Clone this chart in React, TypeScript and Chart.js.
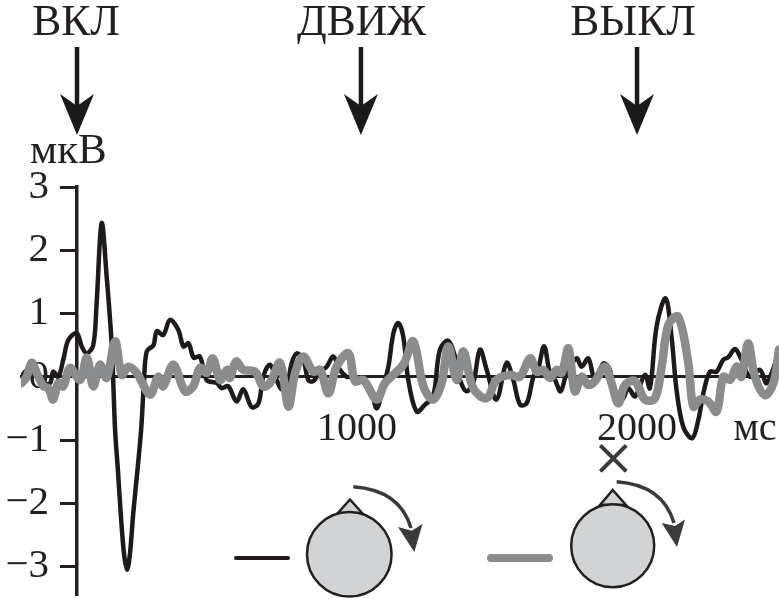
import React, { useEffect, useRef } from "react";
import { Chart, registerables } from "chart.js";

Chart.register(...registerables);

const blackTimes = [-198,-180,-156,-120,-96,-85,-67,-49,-31,-1,17,35,58,70,88,106,124,136,146,156,168,179,189,201,216,229,239,249,273,285,308,332,362,380,398,417,439,463,499,517,540,570,594,624,648,665,689,713,731,749,767,785,808,826,844,868,892,915,939,963,987,1011,1046,1070,1094,1112,1130,1147,1165,1183,1213,1243,1272,1296,1326,1350,1368,1391,1415,1439,1463,1498,1534,1558,1582,1606,1630,1647,1668,1689,1707,1727,1749,1784,1802,1826,1850,1880,1903,1927,1951,1969,1993,2028,2046,2070,2102,2123,2141,2165,2197,2219,2237,2260,2284,2308,2326,2350,2373,2403,2439,2463,2507];
const blackValues = [0,0.1,0.05,-0.1,-0.1,0.08,0,0.27,0.58,0.69,0.48,0.37,0.5,1.16,2.43,1.58,0.5,-0.84,-1.47,-2.15,-2.8,-3.05,-2.8,-2.15,-1.47,-0.84,-0.1,0.4,0.5,0.72,0.66,0.9,0.74,0.48,0.53,0.3,0.32,-0.05,-0.1,-0.18,-0.15,-0.39,-0.2,-0.48,-0.42,0,0.19,-0.05,-0.2,-0.15,0.22,0.37,0.27,-0.05,-0.07,0.08,0.16,0.32,0.11,0,0,-0.05,-0.15,-0.5,-0.15,0.16,0.69,0.85,0.64,-0.05,-0.55,-0.44,-0.31,0.43,0.57,0.32,-0.05,-0.23,-0.1,0.43,0.11,-0.36,0.22,-0.05,-0.44,-0.42,0,0.13,0.48,0.06,-0.05,-0.23,0.06,0.29,0.16,0.29,-0.05,0.21,0.11,-0.42,-0.34,-0.18,-0.31,0.03,-0.18,0.8,1.24,0.64,-0.2,-0.79,-0.97,-0.68,-0.26,0.08,0.08,0.27,0.31,0.44,0.27,0,0.11,-0.1,0.4];

const greyTimes = [-198,-180,-162,-144,-120,-102,-85,-67,-49,-25,11,35,58,82,106,136,160,183,213,261,290,308,344,386,415,439,463,485,511,535,546,568,594,636,665,689,725,755,779,808,844,868,898,927,969,993,1023,1070,1100,1165,1201,1237,1272,1302,1326,1356,1380,1415,1463,1498,1546,1582,1618,1642,1665,1689,1713,1731,1755,1778,1802,1826,1850,1885,1909,1933,1957,1993,2028,2064,2088,2112,2147,2183,2201,2225,2254,2284,2308,2332,2356,2373,2397,2421,2457,2487,2507];
const greyValues = [-0.1,0,0.22,0.06,-0.15,-0.18,-0.36,-0.1,-0.15,0.14,-0.05,0.3,-0.15,0.19,-0.02,0.56,0.03,0.16,0.06,-0.28,0,-0.15,0.19,-0.23,-0.15,0.14,0.06,0.29,-0.05,0.11,-0.02,0.24,0.11,0.08,-0.15,-0.1,0.22,-0.47,0.06,0.32,0.08,0.11,-0.26,0.16,0.37,-0.07,-0.05,-0.36,-0.1,0.19,0.56,-0.15,-0.36,-0.1,0.48,-0.05,0.4,-0.18,-0.34,-0.05,0.03,0,0.29,0.08,0.11,-0.02,0.11,0.06,0.45,-0.23,0,-0.13,-0.07,0.16,-0.1,-0.42,-0.13,-0.07,-0.36,-0.34,0.16,0.82,0.95,0.22,-0.47,-0.36,-0.39,-0.55,0,-0.05,0.16,0,0.53,0,-0.29,-0.1,0.43];

const eventNames = ["ВКЛ", "ДВИЖ", "ВЫКЛ"];
const eventTimes = [0, 1014, 2000];
const xTickValues = [1000, 2000, 2421];
const xTickLabels = ["1000", "2000", "мс"];
const yTickValues = [3, 2, 1, 0, -1, -2, -3];
const yUnit = "мкВ";

const INK = "#231f20";
const GREY = "#8a8c8e";
const HEAD = "#3a3a3b";
const HEAD_FILL = "#d1d3d4";
const SERIF = '"Liberation Serif"';

function pairs(xs: number[], ys: number[]) {
  return xs.map((x, i) => ({ x, y: ys[i] }));
}

function squash(s: any) {
  s.paddingLeft = s.paddingRight = s.paddingTop = s.paddingBottom = 0;
}

function head(ctx: CanvasRenderingContext2D, pts: number[][]) {
  ctx.beginPath();
  pts.forEach(([x, y], i) => (i ? ctx.lineTo(x, y) : ctx.moveTo(x, y)));
  ctx.closePath();
  ctx.fill();
}

function turn(
  ctx: CanvasRenderingContext2D,
  cx: number, cy: number, r: number,
  tri: number[][],
  arc: number[],
  tip: number[][],
) {
  ctx.fillStyle = HEAD_FILL;
  ctx.strokeStyle = INK;
  ctx.lineWidth = 2.5;
  ctx.beginPath();
  tri.forEach(([x, y], i) => (i ? ctx.lineTo(x, y) : ctx.moveTo(x, y)));
  ctx.closePath();
  ctx.fill();
  ctx.stroke();
  ctx.beginPath();
  ctx.arc(cx, cy, r, 0, Math.PI * 2);
  ctx.fill();
  ctx.stroke();
  ctx.strokeStyle = HEAD;
  ctx.lineWidth = 3.5;
  ctx.beginPath();
  ctx.moveTo(arc[0], arc[1]);
  ctx.quadraticCurveTo(arc[2], arc[3], arc[4], arc[5]);
  ctx.stroke();
  ctx.fillStyle = HEAD;
  head(ctx, tip);
}

const annotations = {
  id: "annotations",
  afterDraw(chart: any) {
    const ctx: CanvasRenderingContext2D = chart.ctx;
    const x = chart.scales.x;
    ctx.save();
    ctx.font = `43.5px ${SERIF}`;
    ctx.textAlign = "center";
    ctx.textBaseline = "alphabetic";
    ctx.fillStyle = INK;
    const textCentres = [76, 361.5, 633];
    eventNames.forEach((n, i) => ctx.fillText(n, textCentres[i], 35));
    eventTimes.forEach((t) => {
      const px = x.getPixelForValue(t);
      ctx.strokeStyle = "#1a1a1a";
      ctx.fillStyle = "#1a1a1a";
      ctx.lineWidth = 4.5;
      ctx.beginPath();
      ctx.moveTo(px, 47);
      ctx.lineTo(px, 110);
      ctx.stroke();
      head(ctx, [[px, 135], [px - 17, 94], [px, 106], [px + 17, 94]]);
    });
    ctx.fillStyle = INK;
    ctx.font = `43px ${SERIF}`;
    ctx.textAlign = "left";
    ctx.fillText(yUnit, 30, 163);

    ctx.lineCap = "round";
    ctx.strokeStyle = "#1f1a1a";
    ctx.lineWidth = 4;
    ctx.beginPath();
    ctx.moveTo(236, 558);
    ctx.lineTo(288, 558);
    ctx.stroke();
    ctx.strokeStyle = GREY;
    ctx.lineWidth = 8;
    ctx.beginPath();
    ctx.moveTo(491, 558);
    ctx.lineTo(549, 558);
    ctx.stroke();
    ctx.lineCap = "butt";

    turn(ctx, 349.3, 554.3, 42.3,
      [[350, 499.5], [337, 514], [363, 514]],
      [353.3, 486.7, 400, 490, 411, 528],
      [[414.3, 552], [398, 527], [411.7, 530.7], [422.5, 524]]);
    turn(ctx, 612.7, 545.7, 41.5,
      [[612.7, 490], [600, 505], [626, 505]],
      [616.7, 481.7, 663, 485, 674, 523],
      [[677, 547], [661.7, 523], [675, 526], [685, 519.5]]);

    ctx.strokeStyle = HEAD;
    ctx.lineWidth = 4;
    ctx.beginPath();
    ctx.moveTo(600.3, 445.3);
    ctx.lineTo(626.3, 471.3);
    ctx.moveTo(626.3, 445.3);
    ctx.lineTo(600.3, 471.3);
    ctx.stroke();
    ctx.restore();
  },
};

export default function App() {
  const ref = useRef<HTMLCanvasElement>(null);
  useEffect(() => {
    const keepY = (s: any) => {
      s.ticks = yTickValues.map((value) => ({ value }));
    };
    const yMin = -3.45;
    const yMax = 3;
    const chart = new Chart(ref.current!, {
      type: "line",
      data: {
        datasets: [
          {
            label: "black",
            data: pairs(blackTimes, blackValues),
            borderColor: "#1f1a1a",
            borderWidth: 4.5,
            pointRadius: 0,
            tension: 0.35,
            order: 2,
            fill: false,
          },
          {
            label: "grey",
            data: pairs(greyTimes, greyValues),
            borderColor: GREY,
            borderWidth: 8.5,
            pointRadius: 0,
            tension: 0.35,
            order: 1,
            fill: false,
            borderCapStyle: "round",
            borderJoinStyle: "round",
          },
        ],
      },
      plugins: [annotations],
      options: {
        responsive: false,
        animation: false,
        layout: { padding: { left: 21, right: 0, top: 187, bottom: 4 } },
        plugins: { legend: { display: false }, tooltip: { enabled: false } },
        scales: {
          x: {
            type: "linear",
            position: { y: 0 },
            min: -200,
            max: 2507,
            border: { display: true, color: INK, width: 3 },
            grid: { display: false, drawTicks: false },
            ticks: {
              autoSkip: false,
              maxRotation: 0,
              padding: 29,
              color: INK,
              font: { family: "Liberation Serif", size: 40 },
              callback: (v: any) => xTickLabels[xTickValues.indexOf(v)] ?? "",
            },
            afterBuildTicks: (s: any) => {
              s.ticks = xTickValues.map((value) => ({ value }));
            },
            afterFit: (s: any) => {
              s.height = 0;
              squash(s);
            },
          },
          y: {
            type: "linear",
            position: { x: 0 },
            min: yMin,
            max: yMax,
            border: { display: true, color: INK, width: 3.5 },
            grid: { drawOnChartArea: false, drawTicks: true, tickLength: 15, tickWidth: 3, tickColor: INK },
            ticks: { display: false },
            afterBuildTicks: keepY,
            afterFit: (s: any) => {
              s.width = 0;
              squash(s);
            },
          },
          yLabels: {
            axis: "y",
            type: "linear",
            position: { x: -100 },
            min: yMin,
            max: yMax,
            border: { display: false },
            grid: { display: false, drawTicks: false },
            ticks: {
              autoSkip: false,
              padding: 0,
              color: INK,
              font: { family: "Liberation Serif", size: 41 },
              callback: (v: any) => (v < 0 ? `\u2212${Math.abs(v)}` : String(v)),
            },
            afterBuildTicks: keepY,
            afterFit: (s: any) => {
              s.width = 0;
              squash(s);
            },
          },
        },
      } as any,
    } as any);
    return () => chart.destroy();
  }, []);
  return (
    <div style={{ position: "absolute", left: 0, top: 0, width: 779, height: 599, background: "#fff" }}>
      <canvas ref={ref} width={779} height={599} style={{ display: "block" }} />
    </div>
  );
}
